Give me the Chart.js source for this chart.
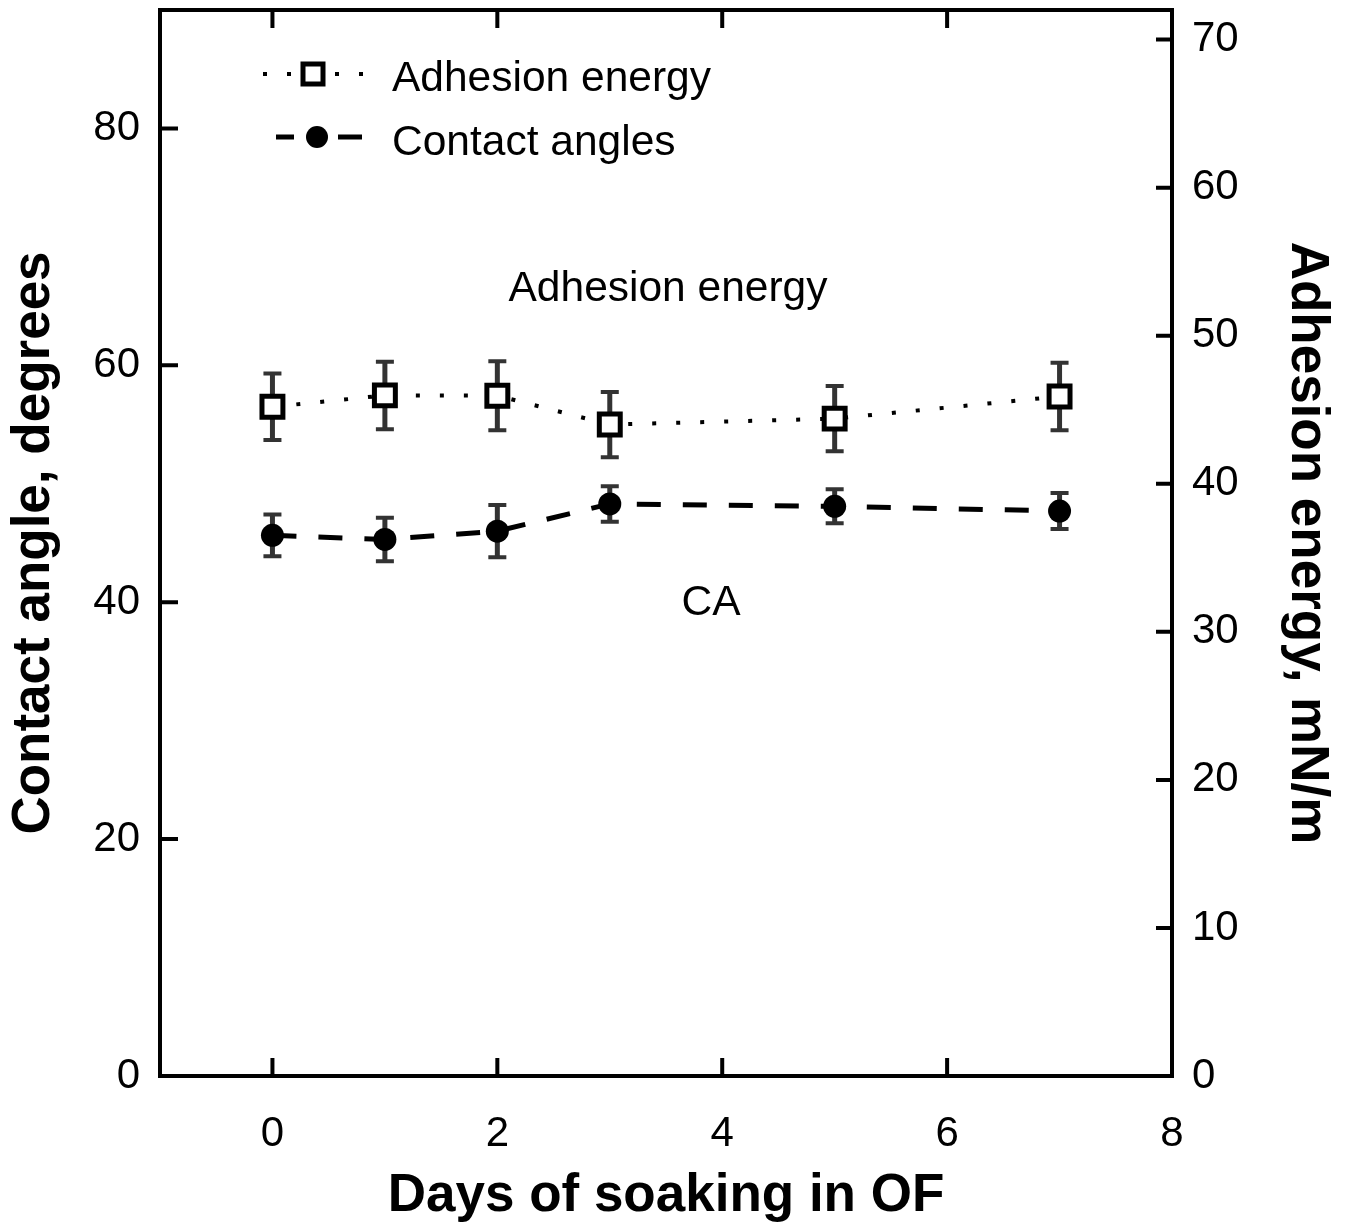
<!DOCTYPE html>
<html>
<head>
<meta charset="utf-8">
<script src="https://cdn.jsdelivr.net/npm/chart.js@4.4.1/dist/chart.umd.min.js"></script>
<style>
  html, body { margin: 0; padding: 0; background: #fff; }
  #wrap { width: 1345px; height: 1232px; }
</style>
</head>
<body>
<div id="wrap"><canvas id="grafico" width="1345" height="1232"></canvas></div>
<script>
const days = [0, 1, 2, 3, 5, 7];
const contactAngle = [45.65, 45.3, 46.0, 48.3, 48.1, 47.7];
const contactErr = [1.76, 1.84, 2.2, 1.5, 1.43, 1.52];
const adhesionEnergy = [45.2, 45.97, 45.95, 44.0, 44.4, 45.9];
const adhesionErr = [2.25, 2.28, 2.33, 2.2, 2.2, 2.28];
const xTicks = [0, 2, 4, 6, 8];
const leftTicks = [0, 20, 40, 60, 80];
const rightTicks = [0, 10, 20, 30, 40, 50, 60, 70];

const FONT = "'Liberation Sans', Arial, Helvetica, sans-serif";
const TICK_LEN = 18;

// frame, inward ticks, error bars, legend and in-plot labels
const decoPlugin = {
    id: 'deco',
    beforeDatasetsDraw(chart) {
        const ctx = chart.ctx;
        const x = chart.scales.x;
        chart.data.datasets.forEach(ds => {
            const y = chart.scales[ds.yAxisID];
            ctx.save();
            ctx.strokeStyle = '#333';
            ds.data.forEach((p, i) => {
                const e = ds.errors[i];
                const px = x.getPixelForValue(p.x);
                const top = y.getPixelForValue(p.y + e);
                const bot = y.getPixelForValue(p.y - e);
                ctx.lineWidth = 5;
                ctx.beginPath();
                ctx.moveTo(px, top); ctx.lineTo(px, bot);
                ctx.stroke();
                ctx.lineWidth = 4;
                ctx.beginPath();
                ctx.moveTo(px - 9, top); ctx.lineTo(px + 9, top);
                ctx.moveTo(px - 9, bot); ctx.lineTo(px + 9, bot);
                ctx.stroke();
            });
            ctx.restore();
        });
    },
    afterDraw(chart) {
        const ctx = chart.ctx;
        const a = chart.chartArea;
        const x = chart.scales.x, yl = chart.scales.yLeft, yr = chart.scales.yRight;
        ctx.save();
        ctx.strokeStyle = '#000';
        ctx.lineWidth = 4;
        ctx.lineCap = 'square';
        ctx.strokeRect(a.left, a.top, a.right - a.left, a.bottom - a.top);
        ctx.lineCap = 'butt';
        ctx.beginPath();
        xTicks.forEach(v => {
            const px = x.getPixelForValue(v);
            if (px <= a.left + 2 || px >= a.right - 2) return;
            ctx.moveTo(px, a.bottom); ctx.lineTo(px, a.bottom - TICK_LEN);
            ctx.moveTo(px, a.top); ctx.lineTo(px, a.top + TICK_LEN);
        });
        leftTicks.forEach(v => {
            const py = yl.getPixelForValue(v);
            if (py >= a.bottom - 2) return;
            ctx.moveTo(a.left, py); ctx.lineTo(a.left + TICK_LEN, py);
        });
        rightTicks.forEach(v => {
            const py = yr.getPixelForValue(v);
            if (py >= a.bottom - 2) return;
            ctx.moveTo(a.right, py); ctx.lineTo(a.right - 16, py);
        });
        ctx.stroke();

        // legend
        ctx.fillStyle = '#000';
        ctx.lineWidth = 4;
        ctx.setLineDash([4, 20]);
        ctx.beginPath(); ctx.moveTo(263, 74); ctx.lineTo(366, 74); ctx.stroke();
        ctx.setLineDash([]);
        ctx.lineWidth = 5;
        ctx.fillStyle = '#fff';
        ctx.fillRect(303, 64, 20, 20);
        ctx.strokeRect(303, 64, 20, 20);
        ctx.beginPath();
        ctx.moveTo(276, 137); ctx.lineTo(294, 137);
        ctx.moveTo(338, 137); ctx.lineTo(362, 137);
        ctx.stroke();
        ctx.fillStyle = '#000';
        ctx.beginPath(); ctx.arc(317, 137, 11, 0, Math.PI * 2); ctx.fill();

        ctx.font = `42.5px ${FONT}`;
        ctx.textBaseline = 'middle';
        ctx.textAlign = 'left';
        ctx.fillText('Adhesion energy', 392, 79);
        ctx.fillText('Contact angles', 392, 143);

        ctx.textAlign = 'center';
        ctx.fillText('Adhesion energy', 668, 289);
        ctx.fillText('CA', 711, 603);
        ctx.restore();
    }
};

function fixedWidth(w) {
    return scale => {
        scale.width = w;
        scale.paddingTop = 0;
        scale.paddingBottom = 0;
    };
}

new Chart(document.getElementById('grafico').getContext('2d'), {
    type: 'scatter',
    data: {
        datasets: [{
            label: 'Adhesion energy',
            yAxisID: 'yRight',
            data: days.map((d, i) => ({ x: d, y: adhesionEnergy[i] })),
            errors: adhesionErr,
            showLine: true,
            borderColor: '#000',
            borderWidth: 4,
            borderDash: [4, 20],
            pointStyle: 'rect',
            pointRadius: 14.8,
            pointBorderWidth: 5,
            pointBorderColor: '#000',
            pointBackgroundColor: '#fff'
        }, {
            label: 'Contact angles',
            yAxisID: 'yLeft',
            data: days.map((d, i) => ({ x: d, y: contactAngle[i] })),
            errors: contactErr,
            showLine: true,
            borderColor: '#000',
            borderWidth: 5,
            borderDash: [24, 22],
            pointStyle: 'circle',
            pointRadius: 11.5,
            pointBorderWidth: 0,
            pointBackgroundColor: '#000'
        }]
    },
    options: {
        responsive: false,
        animation: false,
        devicePixelRatio: 1,
        layout: { autoPadding: false, padding: { top: 10, left: 0, right: 0, bottom: 0 } },
        plugins: { legend: { display: false }, tooltip: { enabled: false } },
        scales: {
            x: {
                type: 'linear',
                min: -1, max: 8,
                afterBuildTicks: s => { s.ticks = xTicks.map(v => ({ value: v })); },
                afterFit: s => { s.height = 156; s.paddingLeft = 0; s.paddingRight = 0; },
                grid: { display: false, drawTicks: false },
                border: { display: false },
                ticks: { color: '#000', padding: 33, font: { family: FONT, size: 42 } },
                title: {
                    display: true, text: 'Days of soaking in OF', color: '#000',
                    padding: { top: 0, bottom: 4 },
                    font: { family: FONT, size: 53, weight: 'bold' }
                }
            },
            yLeft: {
                type: 'linear', position: 'left',
                min: 0, max: 90,
                afterBuildTicks: s => { s.ticks = leftTicks.map(v => ({ value: v })); },
                afterFit: fixedWidth(160),
                grid: { display: false, drawTicks: false },
                border: { display: false },
                ticks: { color: '#000', padding: 20, font: { family: FONT, size: 42 } },
                title: {
                    display: true, text: 'Contact angle, degrees', color: '#000',
                    padding: { top: 3, bottom: 0 },
                    font: { family: FONT, size: 53, weight: 'bold' }
                }
            },
            yRight: {
                type: 'linear', position: 'right',
                min: 0, max: 72,
                afterBuildTicks: s => { s.ticks = rightTicks.map(v => ({ value: v })); },
                afterFit: fixedWidth(173),
                grid: { display: false, drawTicks: false },
                border: { display: false },
                ticks: { color: '#000', padding: 20, font: { family: FONT, size: 42 } },
                title: {
                    display: true, text: 'Adhesion energy, mN/m', color: '#000',
                    padding: { top: 7, bottom: 0 },
                    font: { family: FONT, size: 53, weight: 'bold' }
                }
            }
        }
    },
    plugins: [decoPlugin]
});
</script>
</body>
</html>
